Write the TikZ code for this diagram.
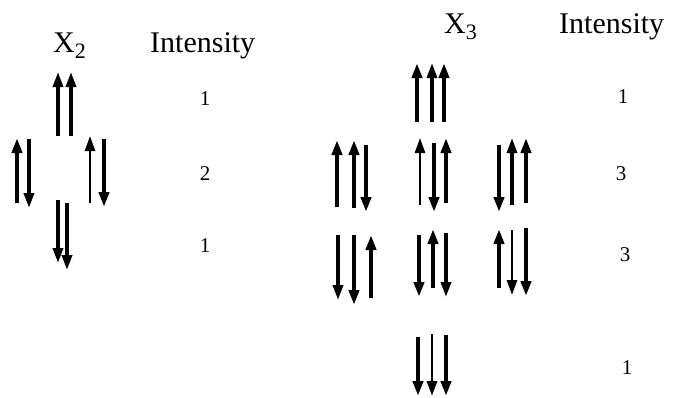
\documentclass[tikz,border=0pt]{standalone}
\usepackage{fontspec}
\setmainfont{Liberation Serif}
\usetikzlibrary{arrows.meta}
\tikzset{
  spin/.style={line width=#1, -{Triangle[length=15pt,width=10pt]}},
  spin/.default=3pt,
  head/.style={font=\fontsize{30}{30}\selectfont, inner sep=0pt, anchor=base},
  num/.style={font=\fontsize{21}{21}\selectfont, inner sep=0pt},
}
\newcommand\sbs[1]{\raisebox{-0.23em}{\fontsize{22}{22}\selectfont #1}}
\begin{document}
\begin{tikzpicture}[x=1pt,y=-1pt]
\useasboundingbox (0,0) rectangle (673,397);
% headings
\node[head, anchor=base west] (x2) at (53,52) {X\sbs{2}};
\node[head, anchor=base west] (int2) at (150,52) {Intensity};
\node[head, anchor=base west] (x3) at (444,33) {X\sbs{3}};
\node[head, anchor=base west] (int3) at (559,33) {Intensity};
% numbers
\node[num] (n21) at (205,99) {1};
\node[num] (n22) at (205,174) {2};
\node[num] (n23) at (205,246) {1};
\node[num] (n31) at (623,97) {1};
\node[num] (n32) at (621,174) {3};
\node[num] (n33) at (625,255) {3};
\node[num] (n34) at (627,368) {1};
% X2 spins
\draw[spin=3.4pt] (58,136) -- (58,72);
\draw[spin=3.4pt] (71,136) -- (71,72);
\draw[spin=4.8pt] (17,203) -- (17,138);
\draw[spin=3.6pt] (29,139) -- (29,208);
\draw[spin=2.6pt] (90,203) -- (90,136);
\draw[spin=3.8pt] (104,139) -- (104,207);
\draw[spin=3.4pt] (58,200) -- (58,263);
\draw[spin=3.6pt] (67,203) -- (67,270);
% X3 top
\draw[spin=4.6pt] (417,122) -- (417,63);
\draw[spin=3.2pt] (432,122) -- (432,63);
\draw[spin=3.8pt] (444,122) -- (444,63);
% X3 row 1
\draw[spin=3.8pt] (337,207) -- (337,140);
\draw[spin=4.6pt] (354,208) -- (354,140);
\draw[spin=3.8pt] (366,145) -- (366,212);
\draw[spin=2.6pt] (420,205) -- (420,138);
\draw[spin=3.8pt] (434,143) -- (434,212);
\draw[spin=4.6pt] (446,203) -- (446,138);
\draw[spin=3.8pt] (499,145) -- (499,212);
\draw[spin=3.2pt] (512,205) -- (512,138);
\draw[spin=4.6pt] (526,203) -- (526,138);
% X3 row 2
\draw[spin=3.4pt] (338,235) -- (338,300);
\draw[spin=3.8pt] (354,235) -- (354,305);
\draw[spin=4.6pt] (371,298) -- (371,235);
\draw[spin=3.8pt] (419,235) -- (419,297);
\draw[spin=3.8pt] (433,288) -- (433,229);
\draw[spin=3.4pt] (446,233) -- (446,297);
\draw[spin=3.8pt] (499,288) -- (499,229);
\draw[spin=2.8pt] (512,230) -- (512,295);
\draw[spin=4.6pt] (526,228) -- (526,296);
% X3 bottom
\draw[spin=4.6pt] (418,337) -- (418,396);
\draw[spin=2.8pt] (432,334) -- (432,396);
\draw[spin=3.8pt] (446,335) -- (446,396);
\end{tikzpicture}
\end{document}
